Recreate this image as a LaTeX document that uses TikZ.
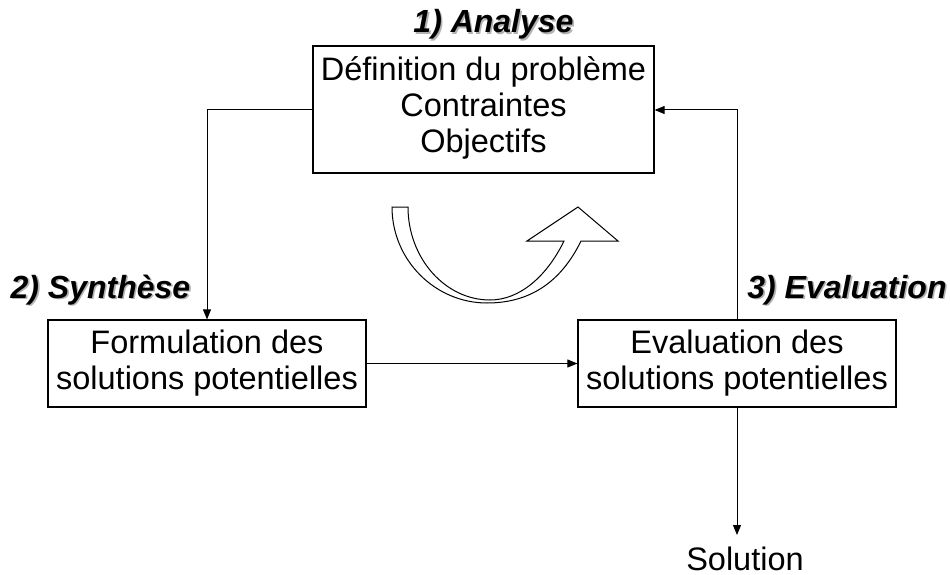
\documentclass[tikz,border=0pt]{standalone}
\usepackage{fontspec}
\setmainfont{Liberation Sans}
\usetikzlibrary{arrows.meta}
\newcommand{\shadowtxt}[1]{\makebox[0pt][l]{\hspace{1.6pt}\raisebox{-1.6pt}{\color{black!30}#1}}#1}
\tikzset{
  boxnode/.style={draw=black, line width=1.2pt, align=center, inner sep=0pt,
    font=\fontsize{32.5}{36}\selectfont},
  lbl/.style={font=\fontsize{32}{36}\selectfont\bfseries\itshape, anchor=base, inner sep=0pt},
  conn/.style={draw=black, line width=1pt, -{Triangle[length=10pt,width=8pt]}},
  plain/.style={draw=black, line width=1pt}
}
\begin{document}
\begin{tikzpicture}[x=1pt,y=-1pt]
\useasboundingbox (0,0) rectangle (950,575);
% boxes
\node[boxnode, minimum width=341pt, minimum height=127pt] (ana) at (483.5,109.5)
  {\raisebox{4pt}{\begin{tabular}{@{}c@{}}D\'efinition du probl\`eme\\Contraintes\\Objectifs\end{tabular}}};
\node[boxnode, minimum width=318pt, minimum height=87pt] (syn) at (207,363.5)
  {Formulation des\\solutions potentielles};
\node[boxnode, minimum width=318pt, minimum height=87pt] (eva) at (737,363.5)
  {Evaluation des\\solutions potentielles};
\node[font=\fontsize{32.5}{36}\selectfont, anchor=base, inner sep=0pt] (sol) at (745,570) {Solution};
\coordinate (solin) at (737,535);
% labels with shadow
\node[lbl] (l1) at (493.5,33) {\shadowtxt{1) Analyse}};
\node[lbl] (l2) at (100.5,298) {\shadowtxt{2) Synth\`ese}};
\node[lbl] (l3) at (847,298) {\shadowtxt{3) Evaluation}};
% connectors
\coordinate (c1) at (207,110);
\coordinate (c2) at (737,110);
\draw[conn] (ana.west |- c1) -- (c1) -- (syn.north);
\draw[conn] (syn.east) -- (eva.west);
\draw[conn] (eva.north) -- (c2) -- (ana.east |- c2);
\draw[conn] (eva.south) -- (solin);
% curved arrow
\draw[plain, line join=miter]
  (392,207) -- (408,207)
  .. controls (408,258) and (445,300) .. (490,300)
  .. controls (520,300) and (547,276) .. (564,241)
  -- (527,241) -- (578,207) -- (618,241) -- (581,241)
  .. controls (561,282) and (530,303) .. (487,303)
  .. controls (435,303) and (392,260) .. (392,207) -- cycle;
\end{tikzpicture}
\end{document}
